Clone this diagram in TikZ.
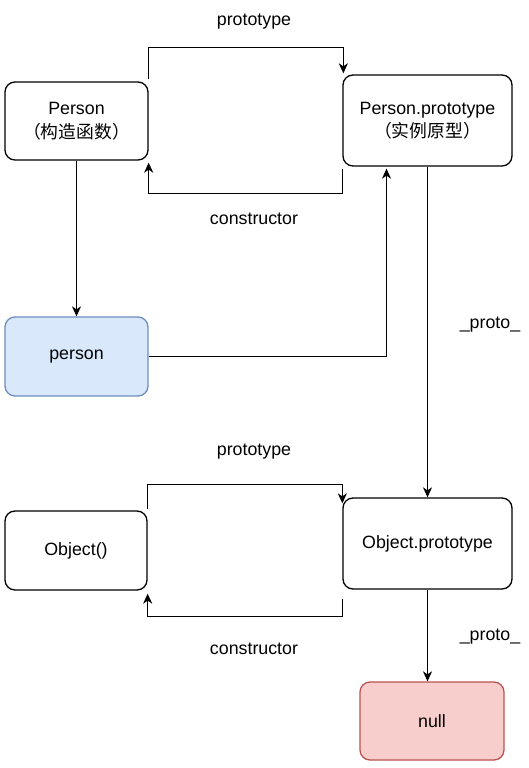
\documentclass[tikz,border=0pt]{standalone}
\usepackage{fontspec}
\setmainfont{Liberation Sans}
\newfontfamily\cjk{Noto Sans CJK SC}
\usetikzlibrary{arrows.meta,calc}
\definecolor{bluefill}{HTML}{DAE8FC}
\definecolor{blueline}{HTML}{6C8EBF}
\definecolor{redfill}{HTML}{F8CECC}
\definecolor{redline}{HTML}{B85450}
\tikzset{
  box/.style={draw=black, line width=1.3pt, rounded corners=10pt, fill=white,
    align=center, inner sep=0pt, font=\fontsize{17.8}{23.5}\selectfont},
  lbl/.style={font=\fontsize{17.8}{22}\selectfont, inner sep=0pt},
  arr/.style={draw=black, line width=1.3pt,
    -{Stealth[length=10pt,width=9pt,inset=3pt]}},
}
\begin{document}
\begin{tikzpicture}[x=1pt,y=-1pt]
\useasboundingbox (0,0) rectangle (528,768);
% nodes
\node[box, minimum width=143pt, minimum height=78pt] (P) at (76.5,121) {Person\\{\cjk （构造函数）}};
\node[box, minimum width=169pt, minimum height=91pt] (PP) at (427.5,120.5) {Person.prototype\\{\cjk （实例原型）}};
\node[box, fill=bluefill, draw=blueline, minimum width=143pt, minimum height=79pt] (p) at (76.5,356.5) {person};
\node[box, minimum width=142pt, minimum height=79pt] (O) at (76,550.5) {Object()};
\node[box, minimum width=169pt, minimum height=91pt] (OP) at (427.5,543.5) {Object.prototype};
\node[box, fill=redfill, draw=redline, minimum width=144pt, minimum height=78pt] (N) at (432,721) {null};
% labels
\node[lbl] (l1) at (254,22) {prototype};
\node[lbl] (l2) at (254,219) {constructor};
\node[lbl] (l3) at (490,325) {\_proto\_};
\node[lbl] (l4) at (254,452) {prototype};
\node[lbl] (l5) at (254,649) {constructor};
\node[lbl] (l6) at (490,637) {\_proto\_};
% connectors
\draw[arr] ([yshift=2pt]P.north east) -- ++(0,-32) -| ([xshift=1pt,yshift=1pt]PP.north west);
\draw[arr] ([yshift=-2pt]PP.south west) -- ++(0,25) -| ([yshift=-2pt]P.south east);
\draw[arr] (P.south) -- (p.north);
\draw[arr] (p.east) -| ([xshift=-41pt,yshift=-2pt]PP.south);
\draw[arr] (PP.south) -- (OP.north);
\draw[arr] ([yshift=1pt]O.north east) -- ++(0,-25) -| ([yshift=-6pt]OP.north west);
\draw[arr] ([yshift=-9pt]OP.south west) -- ++(0,18) -| ([yshift=-3pt]O.south east);
\draw[arr] (OP.south) -- (OP.south |- N.north);
\end{tikzpicture}
\end{document}
